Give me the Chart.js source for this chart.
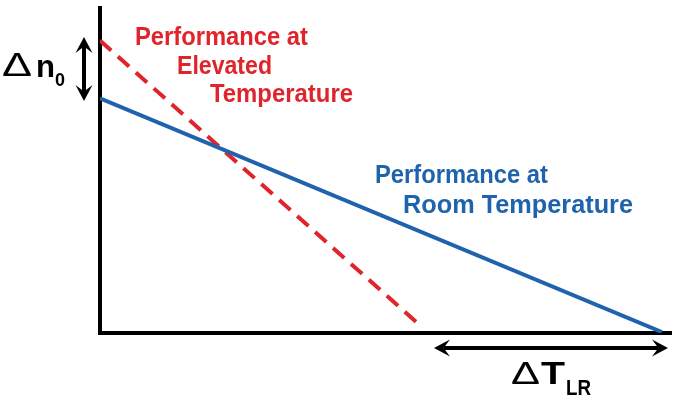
<!DOCTYPE html>
<html>
<head>
<meta charset="utf-8">
<script src="https://cdn.jsdelivr.net/npm/chart.js@4"></script>
<style>
  html, body { margin: 0; padding: 0; background: #fff; }
  #wrap { width: 681px; height: 399px; }
</style>
</head>
<body>
<div id="wrap"><canvas id="chart" width="681" height="399"></canvas></div>
<script>
// --- data (arbitrary units: x = temperature, y = performance) ---
const roomX = [0, 98.4];
const roomY = [72.2, 0.3];
const hotX = [0, 56.4];
const hotY = [90, 1.8];

const RED = '#e0242c';
const BLUE = '#1f63ad';
const LABEL_FONT = '"Liberation Sans Narrow", "Liberation Sans", Arial, sans-serif';

function toPoints(xs, ys) {
  return xs.map((x, i) => ({ x: x, y: ys[i] }));
}

// draw text squeezed/stretched to a target width
function fitText(ctx, text, x, y, width, size, weight) {
  ctx.save();
  ctx.font = (weight || 'bold') + ' ' + size + 'px ' + LABEL_FONT;
  const w = ctx.measureText(text).width;
  ctx.translate(x, y);
  ctx.scale(width / w, 1);
  ctx.fillText(text, 0, 0);
  ctx.restore();
}

function arrowHead(ctx, x, y, dx, dy) {
  // dx,dy = direction the head points to
  const len = 16, half = 8.5;
  const px = -dy, py = dx;
  ctx.beginPath();
  ctx.moveTo(x, y);
  ctx.lineTo(x - dx * len + px * half, y - dy * len + py * half);
  ctx.lineTo(x - dx * len * 0.6, y - dy * len * 0.6);
  ctx.lineTo(x - dx * len - px * half, y - dy * len - py * half);
  ctx.closePath();
  ctx.fill();
}

const annotations = {
  id: 'annotations',
  afterDraw(chart) {
    const ctx = chart.ctx;
    ctx.save();
    ctx.textBaseline = 'alphabetic';
    ctx.textAlign = 'left';

    // series labels
    ctx.fillStyle = RED;
    fitText(ctx, 'Performance at', 135, 45, 173, 26);
    fitText(ctx, 'Elevated', 177, 74, 95, 26);
    fitText(ctx, 'Temperature', 210, 102, 143, 26);

    ctx.fillStyle = BLUE;
    fitText(ctx, 'Performance at', 375, 183, 173, 26);
    fitText(ctx, 'Room Temperature', 403, 213, 230, 26);

    // delta n0
    ctx.fillStyle = '#000';
    ctx.strokeStyle = '#000';
    fitText(ctx, '\u0394', 2, 76, 30, 33, 'normal');
    fitText(ctx, 'n', 36, 77, 19, 32);
    fitText(ctx, '0', 55, 86, 10, 18);

    ctx.lineWidth = 4;
    ctx.beginPath();
    ctx.moveTo(84, 46);
    ctx.lineTo(84, 92);
    ctx.stroke();
    arrowHead(ctx, 84, 37, 0, -1);
    arrowHead(ctx, 84, 101, 0, 1);

    // delta T_LR
    ctx.beginPath();
    ctx.moveTo(444, 348);
    ctx.lineTo(658, 348);
    ctx.stroke();
    arrowHead(ctx, 434, 348, -1, 0);
    arrowHead(ctx, 668, 348, 1, 0);

    fitText(ctx, '\u0394', 511, 384, 29, 31, 'normal');
    fitText(ctx, 'T', 541, 384, 24, 31);
    fitText(ctx, 'LR', 566, 395, 25, 22);

    ctx.restore();
  }
};

new Chart(document.getElementById('chart'), {
  type: 'scatter',
  data: {
    datasets: [
      {
        label: 'Performance at Room Temperature',
        data: toPoints(roomX, roomY),
        showLine: true,
        borderColor: BLUE,
        borderWidth: 4,
        pointRadius: 0,
        borderCapStyle: 'butt'
      },
      {
        label: 'Performance at Elevated Temperature',
        data: toPoints(hotX, hotY),
        showLine: true,
        borderColor: RED,
        borderWidth: 4,
        borderDash: [15, 9],
        pointRadius: 0,
        borderCapStyle: 'butt'
      }
    ]
  },
  options: {
    responsive: false,
    animation: false,
    layout: { padding: { left: 100, right: 10, top: 8, bottom: 66 } },
    plugins: {
      legend: { display: false },
      tooltip: { enabled: false }
    },
    scales: {
      x: {
        type: 'linear',
        min: 0,
        max: 100,
        grid: { display: false, drawTicks: false },
        ticks: { display: false },
        border: { display: true, color: '#000', width: 4 }
      },
      y: {
        type: 'linear',
        min: 0,
        max: 100,
        grid: { display: false, drawTicks: false },
        ticks: { display: false },
        border: { display: true, color: '#000', width: 4 }
      }
    }
  },
  plugins: [annotations]
});
</script>
</body>
</html>
